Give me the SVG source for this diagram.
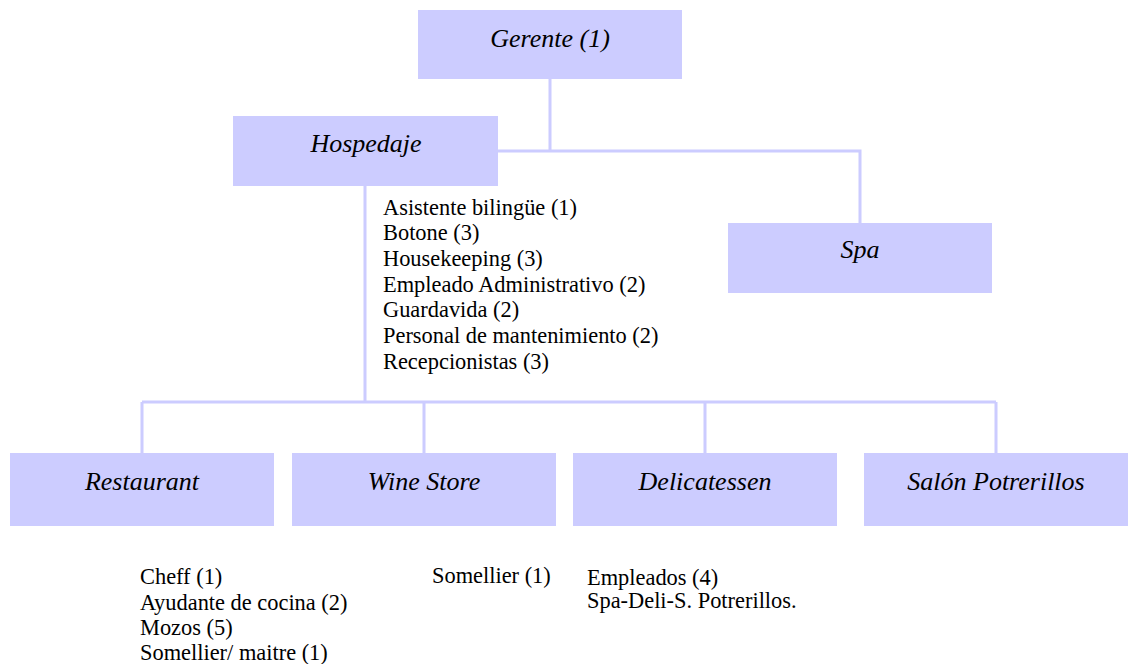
<svg xmlns="http://www.w3.org/2000/svg" width="1133" height="664" viewBox="0 0 1133 664">
<style>
.box{fill:#ccccff;}
.lbl{font-family:'Liberation Serif','Times New Roman',serif;font-style:italic;font-size:26px;fill:#000;text-anchor:middle;}
.lst{font-family:'Liberation Serif','Times New Roman',serif;font-size:22.4px;fill:#000;}
.ln{stroke:#ccccff;stroke-width:3;fill:none;}
</style>
<rect width="1133" height="664" fill="#fff"/>
<g id="connectors">
<path class="ln" d="M550 79V151M498 151H860V223"/>
<path class="ln" d="M365 186V402M142 402H996M142 402V453M424 402V453M705 402V453M996 402V453"/>
</g>
<g id="gerente"><rect class="box" x="418" y="10" width="264" height="69"/><text class="lbl" x="550" y="47">Gerente (1)</text></g>
<g id="hospedaje"><rect class="box" x="233" y="116" width="265" height="70"/><text class="lbl" x="366" y="152">Hospedaje</text>
<text class="lst" x="383" y="215">Asistente bilingüe (1)</text>
<text class="lst" x="383" y="240">Botone (3)</text>
<text class="lst" x="383" y="266">Housekeeping (3)</text>
<text class="lst" x="383" y="292">Empleado Administrativo (2)</text>
<text class="lst" x="383" y="317">Guardavida (2)</text>
<text class="lst" x="383" y="343">Personal de mantenimiento (2)</text>
<text class="lst" x="383" y="369">Recepcionistas (3)</text>
</g>
<g id="spa"><rect class="box" x="728" y="223" width="264" height="70"/><text class="lbl" x="860" y="258">Spa</text></g>
<g id="restaurant"><rect class="box" x="10" y="453" width="264" height="73"/><text class="lbl" x="142" y="490">Restaurant</text>
<text class="lst" x="140" y="584">Cheff (1)</text>
<text class="lst" x="140" y="610">Ayudante de cocina (2)</text>
<text class="lst" x="140" y="635">Mozos (5)</text>
<text class="lst" x="140" y="660">Somellier/ maitre (1)</text>
</g>
<g id="wine-store"><rect class="box" x="292" y="453" width="264" height="73"/><text class="lbl" x="424" y="490">Wine Store</text>
<text class="lst" x="432" y="583">Somellier (1)</text>
</g>
<g id="delicatessen"><rect class="box" x="573" y="453" width="264" height="73"/><text class="lbl" x="705" y="490">Delicatessen</text>
<text class="lst" x="587" y="585">Empleados (4)</text>
<text class="lst" x="587" y="608">Spa-Deli-S. Potrerillos.</text>
</g>
<g id="salon-potrerillos"><rect class="box" x="864" y="453" width="264" height="73"/><text class="lbl" x="996" y="490">Salón Potrerillos</text></g>
</svg>
